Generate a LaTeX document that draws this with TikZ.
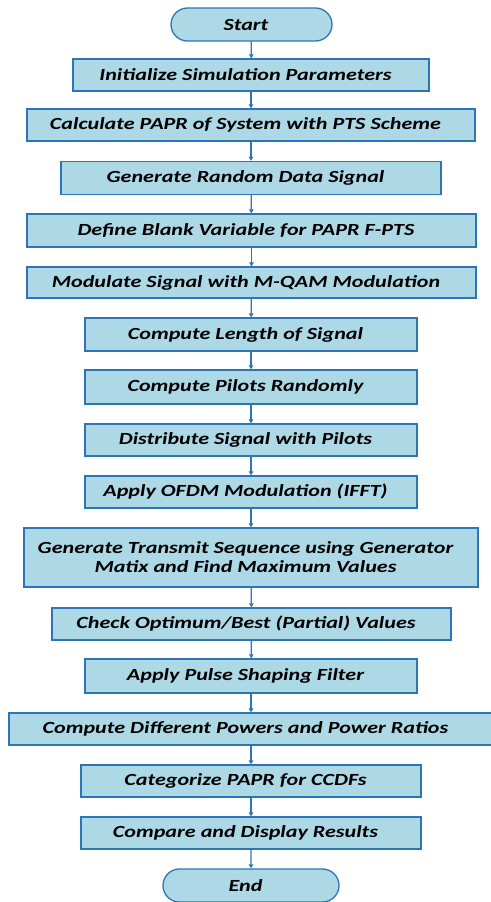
\documentclass[tikz,border=0pt]{standalone}
\usepackage{fontspec}
\setmainfont{Carlito}[FakeStretch=1.3]
\usetikzlibrary{arrows.meta,shapes.misc}
\definecolor{boxfill}{RGB}{173,216,230}
\definecolor{boxline}{RGB}{46,117,182}
\newcommand\tsh{\hspace*{11pt}}
\begin{document}
\begin{tikzpicture}[x=1pt,y=-1pt,
  procbox/.style={draw=boxline,fill=boxfill,line width=1.3pt,inner sep=0pt,
    font=\fontsize{17}{19}\selectfont\bfseries\itshape,align=center},
  termbox/.style={procbox,rounded rectangle},
  flow/.style={draw=boxline,line width=1.2pt,-{Triangle[length=4pt,width=4.5pt]}}]
\useasboundingbox (0,0) rectangle (490,902);
\node[termbox,minimum width=161pt,minimum height=33pt] (start) at (251.5,24.5) {Start\tsh};
\node[procbox,minimum width=356pt,minimum height=32pt] (init) at (251,75) {Initialize Simulation Parameters\tsh};
\node[procbox,minimum width=448pt,minimum height=32pt] (calc) at (251,125) {Calculate PAPR of System with PTS Scheme\tsh};
\node[procbox,minimum width=380pt,minimum height=33pt] (gen) at (251,178) {Generate Random Data Signal\tsh};
\node[procbox,minimum width=449pt,minimum height=33pt] (def) at (251.5,230.5) {Define Blank Variable for PAPR F-PTS\tsh};
\node[procbox,minimum width=449pt,minimum height=31pt] (mod) at (251.5,282.5) {Modulate Signal with M-QAM Modulation\tsh};
\node[procbox,minimum width=332pt,minimum height=33pt] (len) at (251,334.5) {Compute Length of Signal\tsh};
\node[procbox,minimum width=332pt,minimum height=34pt] (pil) at (251,387) {Compute Pilots Randomly\tsh};
\node[procbox,minimum width=332pt,minimum height=32pt] (dist) at (251,440) {Distribute Signal with Pilots\tsh};
\node[procbox,minimum width=332pt,minimum height=32pt] (ofdm) at (251,492) {Apply OFDM Modulation (IFFT)\tsh};
\node[procbox,minimum width=454pt,minimum height=59pt] (trans) at (251,557.5) {Generate Transmit Sequence using Generator\tsh\\Matix and Find Maximum Values\tsh};
\node[procbox,minimum width=399pt,minimum height=32pt] (check) at (251.5,624) {Check Optimum/Best (Partial) Values\tsh};
\node[procbox,minimum width=332pt,minimum height=34pt] (pulse) at (251,676) {Apply Pulse Shaping Filter\tsh};
\node[procbox,minimum width=484pt,minimum height=32pt] (power) at (251,729) {Compute Different Powers and Power Ratios\tsh};
\node[procbox,minimum width=340pt,minimum height=32pt] (cat) at (251,781) {Categorize PAPR for CCDFs\tsh};
\node[procbox,minimum width=340pt,minimum height=32pt] (comp) at (251,833) {Compare and Display Results\tsh};
\node[termbox,minimum width=176pt,minimum height=33pt] (end) at (251,885.5) {End\tsh};
\foreach \a/\b in {start/init,init/calc,calc/gen,gen/def,def/mod,mod/len,len/pil,pil/dist,dist/ofdm,ofdm/trans,trans/check,check/pulse,pulse/power,power/cat,cat/comp,comp/end}
  \draw[flow] (\a) -- (\b);
\end{tikzpicture}
\end{document}
